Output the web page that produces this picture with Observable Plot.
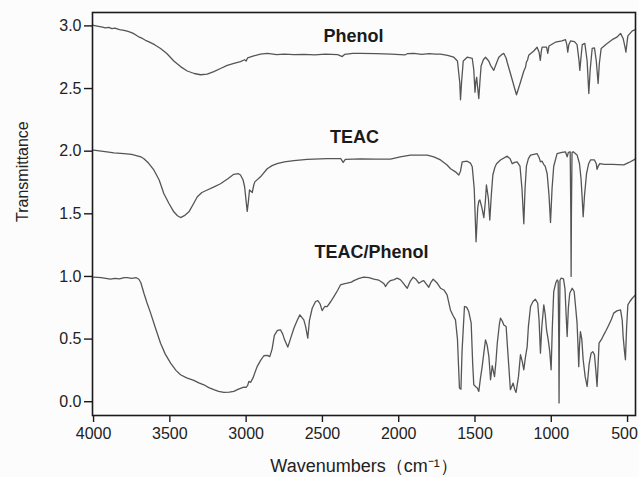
<!DOCTYPE html>
<html>
<head>
<meta charset="utf-8">
<script src="https://cdn.jsdelivr.net/npm/d3@7"></script>
<script src="https://cdn.jsdelivr.net/npm/@observablehq/plot@0.6"></script>
<style>
  html, body { margin: 0; padding: 0; background: #fcfcfc; }
  #chart svg { display: block; }
</style>
</head>
<body>
<div id="chart"></div>
<script>
// ---- Data ----
const phenolWn = [4000,3960,3940,3925,3900,3880,3860,3830,3800,3780,3760,3740,3720,3700,3680,3660,3640,3600,3561,3520,3474,3430,3386,3340,3299,3255,3212,3168,3124,3080,3037,3010,3000,2990,2950,2906,2860,2800,2750,2687,2620,2550,2480,2400,2370,2355,2300,2250,2150,2050,1960,1944,1900,1850,1800,1760,1726,1680,1639,1615,1600,1595,1588,1577,1551,1518,1508,1500,1494,1489,1482,1475,1468,1460,1445,1431,1410,1398,1377,1360,1344,1320,1311,1295,1289,1270,1256,1240,1228,1215,1202,1180,1169,1163,1155,1148,1115,1093,1080,1072,1065,1060,1031,1023,1015,973,930,907,898,892,885,874,848,831,818,813,805,797,780,765,754,745,732,717,705,693,685,673,634,601,570,546,529,515,511,505,498,469,448];
const phenolT  = [3.005,2.995,2.99,2.985,2.988,2.978,2.982,2.97,2.965,2.958,2.95,2.94,2.925,2.91,2.9,2.885,2.875,2.85,2.82,2.78,2.72,2.675,2.64,2.62,2.61,2.615,2.635,2.66,2.685,2.70,2.715,2.73,2.72,2.745,2.76,2.775,2.78,2.77,2.775,2.77,2.773,2.768,2.775,2.77,2.755,2.772,2.78,2.78,2.778,2.775,2.768,2.778,2.78,2.772,2.778,2.775,2.775,2.765,2.75,2.72,2.55,2.41,2.55,2.72,2.75,2.74,2.65,2.47,2.56,2.59,2.5,2.42,2.55,2.68,2.73,2.75,2.72,2.685,2.645,2.7,2.75,2.775,2.78,2.74,2.71,2.63,2.57,2.5,2.45,2.5,2.55,2.64,2.67,2.71,2.73,2.765,2.80,2.83,2.79,2.725,2.8,2.83,2.83,2.78,2.84,2.87,2.88,2.89,2.85,2.79,2.85,2.88,2.875,2.85,2.72,2.645,2.75,2.85,2.86,2.72,2.46,2.65,2.82,2.825,2.72,2.54,2.7,2.82,2.86,2.89,2.91,2.94,2.9,2.82,2.79,2.85,2.92,2.96,2.97];

const teacWn = [4000,3950,3900,3867,3800,3750,3714,3690,3670,3640,3605,3570,3539,3505,3474,3450,3430,3405,3375,3345,3320,3290,3255,3210,3168,3120,3081,3050,3037,3020,3010,3000,2993,2985,2978,2968,2960,2950,2943,2906,2862,2830,2797,2750,2687,2600,2469,2380,2364,2350,2250,2150,2054,1990,1923,1860,1813,1770,1726,1683,1660,1628,1606,1595,1584,1551,1530,1518,1505,1493,1482,1475,1468,1455,1442,1432,1425,1412,1403,1393,1383,1370,1359,1333,1289,1270,1256,1240,1224,1205,1192,1180,1172,1163,1150,1136,1093,1080,1071,1060,1050,1040,1027,1015,1005,995,984,962,930,907,896,888,876,872,870,868,864,856,831,815,805,798,791,782,769,755,743,717,705,700,692,682,650,600,525,490,459,448];
const teacT  = [2.008,2.0,1.993,1.987,1.98,1.975,1.963,1.955,1.94,1.905,1.85,1.77,1.66,1.58,1.516,1.485,1.47,1.485,1.516,1.58,1.636,1.67,1.69,1.715,1.74,1.78,1.815,1.82,1.81,1.77,1.716,1.6,1.52,1.6,1.69,1.68,1.67,1.73,1.755,1.795,1.86,1.885,1.90,1.915,1.925,1.935,1.94,1.94,1.91,1.935,1.938,1.937,1.936,1.955,1.968,1.968,1.968,1.955,1.93,1.89,1.86,1.835,1.81,1.84,1.915,1.92,1.905,1.875,1.7,1.277,1.55,1.6,1.61,1.55,1.47,1.6,1.73,1.62,1.45,1.65,1.81,1.87,1.90,1.93,1.96,1.94,1.90,1.91,1.915,1.88,1.7,1.42,1.7,1.88,1.94,1.968,1.98,1.95,1.915,1.92,1.895,1.88,1.82,1.65,1.43,1.7,1.88,1.98,1.99,1.995,1.955,1.99,1.995,1.5,1.0,1.5,1.99,1.995,1.97,1.9,1.78,1.636,1.476,1.65,1.82,1.9,1.93,1.93,1.9,1.855,1.88,1.90,1.895,1.895,1.89,1.91,1.93,1.94];

const mixWn = [4000,3950,3889,3860,3830,3800,3779,3750,3720,3703,3690,3670,3650,3626,3595,3561,3530,3495,3460,3430,3390,3343,3310,3277,3245,3212,3180,3146,3110,3081,3050,3015,3000,2990,2982,2970,2955,2928,2905,2884,2860,2845,2830,2815,2795,2775,2760,2748,2727,2710,2687,2665,2648,2622,2610,2596,2585,2567,2545,2530,2515,2502,2485,2469,2445,2425,2400,2382,2360,2338,2310,2294,2260,2229,2195,2163,2130,2109,2095,2087,2070,2054,2030,2010,1990,1978,1960,1944,1925,1905,1885,1868,1850,1836,1820,1803,1790,1774,1750,1726,1704,1683,1661,1645,1628,1615,1602,1592,1585,1569,1555,1541,1525,1515,1508,1495,1485,1475,1465,1453,1441,1431,1420,1409,1398,1387,1372,1362,1354,1340,1333,1320,1311,1296,1285,1268,1250,1240,1231,1215,1202,1190,1180,1170,1158,1150,1136,1120,1104,1089,1080,1071,1062,1049,1040,1031,1020,1010,1001,993,984,970,962,955,951,949,947,943,936,920,910,903,896,888,879,863,850,840,831,825,820,815,809,800,791,778,765,752,739,728,717,708,700,693,687,670,656,640,623,605,591,570,546,535,529,520,514,506,498,485,469,448];
const mixT  = [0.994,0.99,0.978,0.985,0.98,0.99,0.99,0.985,0.99,0.978,0.95,0.866,0.79,0.707,0.59,0.467,0.38,0.308,0.25,0.215,0.19,0.17,0.15,0.135,0.113,0.096,0.082,0.074,0.076,0.082,0.1,0.117,0.115,0.13,0.162,0.155,0.19,0.28,0.33,0.367,0.37,0.36,0.42,0.53,0.57,0.574,0.54,0.494,0.436,0.5,0.587,0.65,0.693,0.653,0.6,0.507,0.65,0.746,0.8,0.807,0.78,0.727,0.76,0.759,0.8,0.839,0.89,0.932,0.94,0.946,0.955,0.967,0.985,0.994,0.99,0.978,0.97,0.954,0.94,0.919,0.95,0.967,0.975,0.986,0.975,0.959,0.93,0.906,0.96,0.994,0.975,0.946,0.96,0.967,0.94,0.914,0.95,0.978,0.95,0.906,0.892,0.853,0.733,0.69,0.653,0.5,0.109,0.1,0.4,0.76,0.755,0.72,0.627,0.3,0.135,0.12,0.11,0.082,0.18,0.28,0.4,0.494,0.45,0.36,0.175,0.287,0.20,0.33,0.467,0.62,0.667,0.64,0.613,0.60,0.4,0.096,0.149,0.1,0.074,0.2,0.375,0.32,0.255,0.35,0.44,0.6,0.76,0.8,0.818,0.786,0.65,0.388,0.6,0.773,0.7,0.574,0.494,0.4,0.255,0.6,0.879,0.95,0.972,0.96,0.5,-0.01,0.5,0.97,0.986,0.98,0.9,0.7,0.52,0.75,0.866,0.906,0.88,0.75,0.627,0.45,0.28,0.45,0.56,0.5,0.335,0.2,0.122,0.3,0.388,0.4,0.375,0.25,0.122,0.3,0.467,0.5,0.534,0.57,0.613,0.66,0.707,0.725,0.733,0.65,0.52,0.4,0.335,0.6,0.773,0.8,0.826,0.853];

const seriesNames = ["Phenol", "TEAC", "TEAC/Phenol"];
const labelWn = [2296, 2290, 2178];
const labelT  = [2.92, 2.11, 1.19];

const xTicks = [4000, 3500, 3000, 2500, 2000, 1500, 1000, 500];
const yTicks = [0.0, 0.5, 1.0, 1.5, 2.0, 2.5, 3.0];

const xTitle = "Wavenumbers（cm⁻¹）";
const yTitle = "Transmittance";

// ---- Build rows ----
function rows(name, wn, t) { return wn.map((w, i) => ({series: name, wn: w, t: t[i]})); }
const data = [
  ...rows(seriesNames[0], phenolWn, phenolT),
  ...rows(seriesNames[1], teacWn, teacT),
  ...rows(seriesNames[2], mixWn, mixT)
];
const labels = seriesNames.map((s, i) => ({text: s, wn: labelWn[i], t: labelT[i]}));
const lastX = xTicks[xTicks.length - 1];
const fmtX = d3.format("d");

const chart = Plot.plot({
  width: 639,
  height: 477,
  marginLeft: 92,
  marginRight: 4,
  marginTop: 12,
  marginBottom: 62,
  style: {fontFamily: "'Liberation Sans', Arial, sans-serif", fontSize: "16px", color: "#222", background: "#fcfcfc"},
  x: {domain: [4007, 448]},
  y: {domain: [-0.11, 3.107]},
  marks: [
    Plot.line(data, {x: "wn", y: "t", z: "series", stroke: "#555555", strokeWidth: 1.3}),
    Plot.frame({stroke: "#1a1a1a", strokeWidth: 1.6}),
    Plot.axisX({ticks: xTicks, tickFormat: d => d === lastX ? "" : fmtX(d), tickSize: 7, tickPadding: 5, label: null, stroke: "#1a1a1a", strokeWidth: 1.4}),
    Plot.axisX({ticks: [lastX], tickFormat: fmtX, tickSize: 0, tickPadding: 12, dx: -3, label: null}),
    Plot.axisY({ticks: yTicks, tickFormat: d3.format(".1f"), tickSize: 8, tickPadding: 3, label: null, stroke: "#1a1a1a", strokeWidth: 1.4}),
    Plot.text(labels, {x: "wn", y: "t", text: "text", fontWeight: "bold", fontSize: 18, fill: "#1a1a1a", textAnchor: "middle", lineAnchor: "middle"}),
    Plot.text([yTitle], {frameAnchor: "left", text: d => d, rotate: -90, dx: -70, dy: 8, fontSize: 16, fill: "#222", lineAnchor: "middle"}),
    Plot.text([xTitle], {frameAnchor: "bottom", text: d => d, dy: 51, fontSize: 18, fill: "#222", lineAnchor: "middle"})
  ]
});
document.getElementById("chart").appendChild(chart);
</script>
</body>
</html>
